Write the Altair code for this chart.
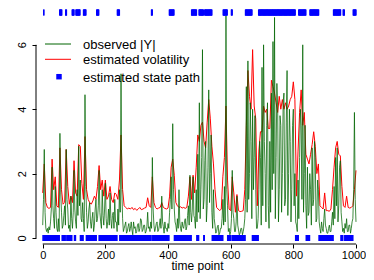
import altair as alt
import pandas as pd

# observed |Y| read every 2.5 time points
obs_time = [i * 2.5 for i in range(401)]
observed_abs = [
    0.4, 1.2, 2.75, 0.8, 0.3, 0.2, 0.3, 0.15, 0.35, 0.25, 0.5, 0.9, 2.2, 1.0, 0.6, 0.3, 1.6, 0.8, 0.3, 0.2,
    0.6, 0.2, 3.25, 1.4, 0.8, 0.3, 0.4, 0.7, 1.0, 0.4, 2.75, 1.2, 0.9, 0.3, 0.4, 0.2, 1.3, 0.6, 0.3, 0.8,
    2.1, 0.9, 0.5, 0.3, 1.5, 0.7, 2.85, 1.0, 1.8, 0.6, 0.5, 1.1, 0.6, 0.2, 4.45, 1.6, 0.8, 0.3, 0.5, 0.9,
    1.1, 0.5, 0.3, 0.6, 0.8, 0.2, 0.4, 0.9, 1.2, 0.5, 0.6, 1.0, 2.1, 0.8, 0.5, 0.3, 1.5, 0.7, 0.4, 0.9,
    1.7, 0.6, 0.3, 0.5, 0.9, 0.4, 1.4, 0.6, 0.3, 0.7, 0.8, 0.3, 1.2, 0.5, 0.5, 0.2, 0.9, 0.4, 1.5, 0.8,
    5.1, 1.5, 0.6, 0.2, 0.3, 0.4, 0.5, 0.15, 0.2, 0.35, 0.45, 0.2, 0.3, 0.5, 0.25, 0.1, 0.5, 0.3, 0.35, 0.15,
    0.2, 0.4, 0.45, 0.2, 0.3, 0.6, 0.55, 0.2, 0.25, 0.4, 0.4, 0.15, 0.2, 0.35, 0.8, 0.3, 0.35, 0.2, 0.5, 0.3,
    2.5, 0.9, 0.4, 0.2, 0.3, 0.45, 0.5, 0.2, 0.25, 0.4, 0.6, 0.3, 1.3, 0.5, 0.35, 0.15, 0.5, 0.3, 0.3, 0.2,
    0.45, 0.3, 0.8, 1.2, 1.9, 0.9, 3.55, 1.5, 0.9, 0.5, 0.4, 0.2, 0.6, 0.3, 1.5, 0.5, 0.3, 0.2, 0.5, 0.35,
    0.3, 0.5, 0.6, 0.25, 0.35, 0.7, 1.0, 0.4, 1.95, 0.8, 0.5, 0.9, 1.9, 0.7, 0.6, 0.3, 1.5, 0.5, 2.6, 0.8,
    4.2, 0.6, 1.5, 2.5, 5.85, 0.9, 1.2, 2.4, 3.0, 0.5, 1.0, 2.2, 4.6, 1.1, 2.0, 3.2, 0.8, 0.3, 1.5, 0.6,
    0.4, 0.15, 0.2, 0.35, 0.4, 0.1, 0.15, 0.3, 0.3, 0.6, 1.2, 0.4, 1.6, 0.5, 6.9, 1.5, 1.0, 0.2, 0.3, 0.1,
    0.2, 0.6, 2.1, 0.8, 0.6, 0.2, 0.2, 0.5, 1.3, 0.4, 0.25, 0.1, 0.15, 0.3, 0.3, 0.1, 0.2, 0.35, 0.6, 1.2,
    4.7, 0.8, 5.5, 1.2, 2.0, 4.2, 3.0, 0.6, 4.0, 1.5, 2.5, 3.8, 1.5, 0.3, 0.3, 0.6, 1.5, 3.0, 2.5, 0.4,
    5.3, 1.0, 6.0, 3.0, 2.0, 0.5, 3.5, 4.2, 1.0, 0.3, 3.0, 0.8, 4.5, 1.5, 6.1, 2.0, 6.85, 0.6, 2.5, 4.8,
    4.0, 0.5, 1.5, 3.8, 3.5, 0.8, 2.0, 4.2, 4.5, 1.0, 1.2, 3.6, 5.2, 0.7, 2.0, 4.0, 3.0, 0.5, 1.5, 3.5,
    4.0, 1.0, 2.0, 0.5, 0.4, 0.2, 1.8, 0.6, 2.5, 4.0, 3.5, 1.2, 6.0, 0.8, 2.0, 3.5, 1.0, 0.3, 2.2, 0.7,
    0.8, 2.0, 1.5, 0.4, 2.8, 1.0, 1.2, 3.0, 2.5, 0.5, 0.6, 1.8, 1.5, 0.5, 0.3, 0.15, 0.5, 0.3, 0.2, 0.6,
    0.9, 0.4, 0.3, 0.15, 0.15, 0.3, 0.4, 0.2, 0.2, 0.5, 0.8, 0.4, 1.6, 0.6, 2.5, 1.0, 2.8, 0.5, 1.0, 2.2,
    2.4, 0.8, 0.5, 0.2, 0.3, 0.15, 0.45, 0.3, 0.6, 0.2, 0.2, 0.4, 0.4, 0.15, 0.3, 0.5, 0.6, 1.5, 3.9, 1.2,
    0.5,
]

# estimated volatility read every 5 time points
vol_time = list(range(0, 1001, 5))
estimated_volatility = [
    1.4, 2.3, 1.1, 0.95, 0.92, 0.95, 2.45, 1.5, 1.9, 1.0,
    0.95, 2.8, 1.5, 1.05, 1.1, 2.75, 1.6, 1.05, 1.3, 1.1,
    2.4, 1.4, 1.3, 2.9, 2.85, 1.7, 1.2, 3.15, 1.5, 1.2,
    1.1, 1.05, 1.15, 1.3, 1.2, 1.6, 2.25, 1.5, 1.8, 1.3,
    1.8, 1.2, 1.3, 1.6, 1.2, 1.1, 1.4, 1.35, 1.2, 1.8,
    3.2, 1.5, 1.0, 0.95, 0.9, 0.93, 0.9, 0.95, 0.88, 0.92,
    0.86, 0.9, 0.95, 0.88, 0.9, 0.93, 0.95, 1.25, 1.0, 0.95,
    1.9, 1.1, 0.95, 0.9, 0.93, 0.95, 1.1, 0.95, 0.92, 0.9,
    0.93, 1.3, 2.2, 2.45, 1.95, 1.1, 1.0, 0.95, 0.97, 0.93,
    0.95, 0.92, 0.95, 1.3, 1.9, 1.2, 1.95, 1.4, 2.2, 3.2,
    3.0, 3.5, 3.6, 3.0, 2.8, 3.6, 4.3, 3.7, 2.85, 2.3,
    1.5, 0.95, 0.9, 0.85, 0.9, 1.9, 2.5, 4.1, 1.8, 0.9,
    0.85, 1.9, 1.4, 0.8, 1.35, 0.85, 0.82, 0.83, 0.85, 1.5,
    3.5, 5.2, 4.4, 4.0, 5.85, 4.1, 3.7, 1.0, 2.7, 3.3,
    3.3, 4.1, 3.9, 4.0, 3.4, 3.4, 4.9, 4.7, 4.5, 4.2,
    3.9, 4.4, 4.0, 4.3, 4.0, 4.2, 4.0, 4.1, 4.3, 4.4,
    4.85, 4.3, 1.3, 2.7, 3.9, 4.6, 3.5, 3.9, 2.6, 2.45,
    2.3, 2.6, 2.9, 3.3, 2.85, 2.0, 2.3, 1.0, 0.95, 0.9,
    1.4, 0.85, 0.85, 0.83, 0.9, 1.5, 2.2, 2.8, 3.0, 2.6,
    2.55, 1.6, 1.0, 0.95, 1.3, 0.95, 0.93, 0.95, 1.0, 1.5,
    2.1,
]

# estimated state path: intervals of time points in the high-volatility state
high_state_intervals = [
    (3, 4), (54, 61), (73, 76), (94, 100), (106, 119), (130, 138),
    (172, 179), (238, 245), (347, 350), (404, 419), (475, 491),
    (499, 513), (517, 540), (576, 589), (602, 605), (647, 668),
    (689, 806), (817, 840), (853, 881), (928, 951), (959, 963),
    (991, 1000),
]
state_levels = [0, 7]  # plotted height of low / high state

x_ticks = [0, 200, 400, 600, 800, 1000]
y_ticks = [0, 2, 4, 6]

legend_labels = ["observed |Y|", "estimated volatility", "estimated state path"]

GREEN = "#006400"
RED = "#ff0000"
BLUE = "#0000ff"
FONT = "Liberation Sans"

obs_df = pd.DataFrame({"t": obs_time, "obs": observed_abs})
vol_df = pd.DataFrame({"t": vol_time, "vol": estimated_volatility})

state_t = list(range(1, 1001))
state_y = []
for t in state_t:
    high = any(a <= t <= b for a, b in high_state_intervals)
    state_y.append(state_levels[1] if high else state_levels[0])
state_df = pd.DataFrame({"t": state_t, "s": state_y})

W, H = 322, 236
x_scale = alt.Scale(domain=[-21.4, 1006.4], nice=False, zero=False)
y_scale = alt.Scale(domain=[-0.186, 7.143], nice=False, zero=False)

x_axis = alt.Axis(
    values=x_ticks, title="time point", domain=False, grid=False,
    tickSize=4, tickColor="black", labelColor="black", titleColor="black",
    labelFont=FONT, titleFont=FONT, labelFontSize=11, titleFontSize=12,
    titleFontWeight="normal", labelPadding=1, titlePadding=0,
    format="d", labelFlush=False,
    labelOffset={"condition": {"test": "datum.value == 1000", "value": -2.5}, "value": 0},
)
y_axis = alt.Axis(
    values=y_ticks, title=None, domain=False, grid=False,
    tickSize=4, tickColor="black", labelColor="black",
    labelFont=FONT, labelFontSize=11, labelAngle=270,
    labelAlign="center", labelBaseline="alphabetic", labelPadding=6.5,
    format="d",
)

vol_line = alt.Chart(vol_df).mark_line(color=RED, strokeWidth=1).encode(
    x=alt.X("t:Q", scale=x_scale, axis=x_axis),
    y=alt.Y("vol:Q", scale=y_scale, axis=y_axis),
)
obs_line = alt.Chart(obs_df).mark_line(color=GREEN, strokeWidth=1, opacity=0.75).encode(
    x=alt.X("t:Q", scale=x_scale),
    y=alt.Y("obs:Q", scale=y_scale),
)
states = alt.Chart(state_df).mark_tick(
    color=BLUE, orient="vertical", size=6, thickness=1.2, opacity=1
).encode(
    x=alt.X("t:Q", scale=x_scale),
    y=alt.Y("s:Q", scale=y_scale),
)

axis_df = pd.DataFrame({
    "x0": [x_ticks[0]], "x1": [x_ticks[-1]],
    "y0": [y_ticks[0]], "y1": [y_ticks[-1]],
})
x_axis_line = alt.Chart(axis_df).mark_rule(color="black", strokeWidth=1).encode(
    x=alt.X("x0:Q", scale=x_scale), x2="x1:Q", y=alt.value(H)
)
y_axis_line = alt.Chart(axis_df).mark_rule(color="black", strokeWidth=1).encode(
    y=alt.Y("y0:Q", scale=y_scale), y2="y1:Q", x=alt.value(0)
)

one = pd.DataFrame({"a": [0]})
leg_green = alt.Chart(one).mark_rule(color=GREEN, strokeWidth=1).encode(
    x=alt.value(9), x2=alt.value(35), y=alt.value(36))
leg_red = alt.Chart(one).mark_rule(color=RED, strokeWidth=1).encode(
    x=alt.value(9), x2=alt.value(35), y=alt.value(51.3))
leg_sq = alt.Chart(one).mark_square(color=BLUE, size=30, opacity=1).encode(
    x=alt.value(23), y=alt.value(68.7))
leg_texts = [
    alt.Chart(one).mark_text(text=lab, align="left", baseline="middle",
                             font=FONT, fontSize=13, color="black").encode(
        x=alt.value(47), y=alt.value(yy))
    for lab, yy in zip(legend_labels, [37, 52.3, 69.7])
]

chart = alt.layer(
    vol_line, obs_line, states, x_axis_line, y_axis_line,
    leg_green, leg_red, leg_sq, *leg_texts,
).properties(
    width=W, height=H,
    autosize=alt.AutoSizeParams(type="none"),
    padding={"left": 28, "top": 0, "right": 8, "bottom": 36},
).configure_view(stroke=None)

chart.save("out.html", embed_options={"renderer": "svg", "actions": False})
